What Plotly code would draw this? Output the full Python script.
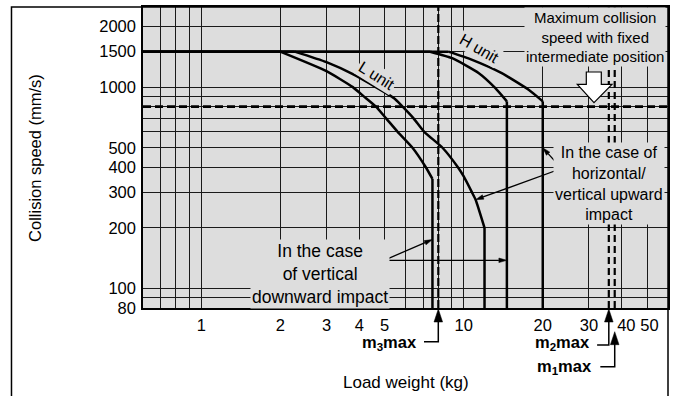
import numpy as np
import plotly.graph_objects as go

# Allowable collision speed (mm/s) against load weight (kg)
# L unit, vertical downward impact
l_down_kg = [0.6, 2.0, 3.0, 3.78, 4.16, 4.63, 5.06, 5.60, 6.38, 7.17, 7.6, 7.6]
l_down_speed = [1500, 1500, 1200, 1000, 900, 800, 700, 600, 500, 400, 350, 80]
# L unit, horizontal / vertical upward impact
l_up_kg = [0.6, 2.27, 3.0, 3.83, 5.43, 5.85, 6.44, 7.07, 8.3, 9.5, 10.0, 10.75, 11.1, 12.0, 12.0]
l_up_speed = [1500, 1500, 1330, 1150, 880, 800, 700, 600, 500, 400, 360, 300, 276, 200, 80]
# H unit, vertical downward impact
h_down_kg = [0.6, 7.45, 9.04, 11.42, 13.2, 14.6, 14.6]
h_down_speed = [1500, 1500, 1392, 1173, 989, 850, 80]
# H unit, horizontal / vertical upward impact
h_up_kg = [0.6, 8.75, 10.77, 13.96, 17.67, 20.0, 20.0]
h_up_speed = [1500, 1500, 1366, 1173, 970, 850, 80]

# Maximum load weights and the speed limit with fixed intermediate position
m1_max = 37.6
m2_max = 35.7
m3_max = 8.0
fixed_mid_speed = 800

x_min, x_max = 0.6, 60
y_min, y_max = 80, 2500

x_tick_vals = [1, 2, 3, 4, 5, 10, 20, 30, 40, 50]
x_tick_text = ['1', '2', '3', '4', '5', '10', '20', '30', '\u00a0\u00a040', '\u00a050']
x_minor_grid = [0.7, 0.8, 0.9, 6, 7, 8, 9]
y_tick_vals = [80, 100, 200, 300, 400, 500, 1000, 1500, 2000]
y_tick_text = ['80', '100', '200', '300', '400', '500', '1000', '1500', '2000']
y_minor_grid = [90, 600, 700, 800, 900]

FONT = "Liberation Sans, Arial, Helvetica, sans-serif"
PLOT_BG = "#dddddd"
INK = "black"
GRID = "#1a1a1a"

fig = go.Figure()


def add_line(xs, ys, shape="linear"):
    fig.add_trace(go.Scatter(x=xs, y=ys, mode="lines",
                             line=dict(color=INK, width=2.5, shape=shape, smoothing=0.5),
                             hoverinfo="skip", showlegend=False))


# each limit: flat 1500 mm/s segment, curved falloff, then vertical drop
for xs, ys in [(l_down_kg, l_down_speed), (l_up_kg, l_up_speed),
               (h_down_kg, h_down_speed), (h_up_kg, h_up_speed)]:
    add_line(xs[:2], ys[:2])
    add_line(xs[1:-1], ys[1:-1], shape="spline")
    add_line(xs[-2:], ys[-2:])

# dashed limit lines
fig.add_trace(go.Scatter(x=[x_min, x_max], y=[fixed_mid_speed, fixed_mid_speed], mode="lines",
                         line=dict(color=INK, width=2.6, dash="8px,4px"),
                         hoverinfo="skip", showlegend=False))
fig.add_trace(go.Scatter(x=[m3_max, m3_max], y=[y_min, y_max], mode="lines",
                         line=dict(color=INK, width=2.2, dash="8px,3px"),
                         hoverinfo="skip", showlegend=False))
for m in (m2_max, m1_max):
    fig.add_trace(go.Scatter(x=[m, m], y=[y_min, y_max], mode="lines",
                             line=dict(color=INK, width=2.2, dash="7px,4px"),
                             hoverinfo="skip", showlegend=False))


def pix_shape(xa, ya, pts, xref="x", yref="paper", closed=False, fill=None, width=1.5):
    d = "M " + " L ".join(f"{x:.2f},{y:.2f}" for x, y in pts) + (" Z" if closed else "")
    return dict(type="path", path=d, xref=xref, yref=yref,
                xsizemode="pixel", ysizemode="pixel", xanchor=xa, yanchor=ya,
                line=dict(color=INK, width=width),
                fillcolor=fill if fill else "rgba(0,0,0,0)", layer="above")


def leader(xa, ya, dx, dy, head_len=8, head_half=2.3):
    """Straight leader ending in a narrow filled head at the data point (xa, ya).
    dx, dy: screen offset of the tail in pixels (dy downwards)."""
    tx, ty = dx, -dy
    ln = (tx ** 2 + ty ** 2) ** 0.5
    ux, uy = -tx / ln, -ty / ln
    bx, by = -ux * head_len, -uy * head_len
    nx, ny = -uy, ux
    return [
        pix_shape(xa, ya, [(tx, ty), (bx, by)], yref="y", width=1.3),
        pix_shape(xa, ya, [(0, 0), (bx + nx * head_half, by + ny * head_half),
                           (bx - nx * head_half, by - ny * head_half)],
                  yref="y", closed=True, fill=INK, width=0.5),
    ]


shapes = []
# leaders from the impact-direction notes
shapes += leader(20.0, 500, 18.3, 20.3)
shapes += leader(11.1, 276, 87.3, -31.7)
shapes += leader(7.6, 175, -49, 21)
shapes += leader(14.6, 138, -123.4, 0)


# m_max pointers under the axis
def max_pointer(xa, tip, bend, left):
    head = [(0, tip), (-4.3, tip - 13), (4.3, tip - 13)]
    stem = [(0, tip - 12), (0, bend), (-left, bend)]
    return [pix_shape(xa, 0, stem, width=1.5),
            pix_shape(xa, 0, head, closed=True, fill=INK, width=0.5)]


shapes += max_pointer(m3_max, -1, -33.7, 14.3)
shapes += max_pointer(m2_max, -1, -37, 11.7)
shapes += max_pointer(m1_max, -23.7, -58.7, 14.4)

# hollow block arrow pointing at the fixed-position speed line
shapes.append(pix_shape(1, 1, [(-81.7, -65), (-66.7, -65), (-66.7, -77.3), (-56, -77.3),
                               (-74, -95.7), (-90.7, -77.3), (-81.7, -77.3)],
                        xref="paper", closed=True, fill="white", width=1.2))

# outer frame of the figure
shapes.append(dict(type="rect", xref="paper", yref="paper", x0=-0.2505, x1=1, y0=-0.4, y1=1,
                   line=dict(color=INK, width=1.5), fillcolor="rgba(0,0,0,0)", layer="above"))

annotations = [
    dict(text="L unit", x=0.444, y=0.7715, textangle=32, font=dict(size=16)),
    dict(text="H unit", x=0.6404, y=0.861, textangle=30, font=dict(size=16)),
    dict(text="Maximum collision<br>speed with fixed<br>intermediate position",
         x=0.8605, y=0.899, font=dict(size=15)),
    dict(text="In the case of<br>horizontal/<br>vertical upward<br>impact",
         x=0.888, y=0.4139, font=dict(size=16)),
    dict(text="In the case<br>of vertical<br>downward impact",
         x=0.3378, y=0.1142, font=dict(size=17.5)),
]
for a in annotations:
    a.update(xref="paper", yref="paper", showarrow=False, bgcolor=PLOT_BG, borderpad=1,
             xanchor="center", yanchor="middle", align="center")
    a["font"].update(family=FONT, color=INK)

annotations += [
    dict(text="Collision speed (mm/s)", x=-0.2068, y=0.5, textangle=-90,
         xref="paper", yref="paper", xanchor="center", yanchor="middle", showarrow=False,
         font=dict(family=FONT, size=16.5, color=INK)),
    dict(text="Load weight (kg)", x=0.5, y=-0.2483, xref="paper", yref="paper",
         xanchor="center", yanchor="middle", showarrow=False,
         font=dict(family=FONT, size=17, color=INK)),
]
for m, sub, xs, ys in [(m3_max, "3", -19, -35), (m2_max, "2", -16.7, -34.7),
                       (m1_max, "1", -21, -58.7)]:
    annotations.append(dict(text=f"<b>m<sub>{sub}</sub>max</b>", x=np.log10(m), y=0,
                            xref="x", yref="paper", xanchor="right", yanchor="middle",
                            xshift=xs, yshift=ys, showarrow=False,
                            font=dict(family=FONT, size=16.5, color=INK)))

axis_common = dict(type="log", showgrid=True, gridcolor=GRID, gridwidth=1,
                   showline=True, linecolor=INK, linewidth=1.5, mirror=True,
                   ticks="", zeroline=False, tickmode="array", tickangle=0,
                   tickfont=dict(family=FONT, size=16.5, color=INK))

fig.update_layout(
    width=675, height=396,
    margin=dict(l=143, r=5, t=6, b=88),
    paper_bgcolor="white", plot_bgcolor=PLOT_BG,
    showlegend=False,
    xaxis=dict(range=[np.log10(x_min), np.log10(x_max)], tickvals=x_tick_vals,
               ticktext=x_tick_text, ticklabelstandoff=1,
               minor=dict(tickmode="array", tickvals=x_minor_grid, showgrid=True,
                          gridcolor=GRID, gridwidth=1, ticks=""),
               **axis_common),
    yaxis=dict(range=[np.log10(y_min), np.log10(y_max)], tickvals=y_tick_vals,
               ticktext=y_tick_text, ticklabelstandoff=2,
               minor=dict(tickmode="array", tickvals=y_minor_grid, showgrid=True,
                          gridcolor=GRID, gridwidth=1, ticks=""),
               **axis_common),
    shapes=shapes,
    annotations=annotations,
)

fig.write_html("out.html")
